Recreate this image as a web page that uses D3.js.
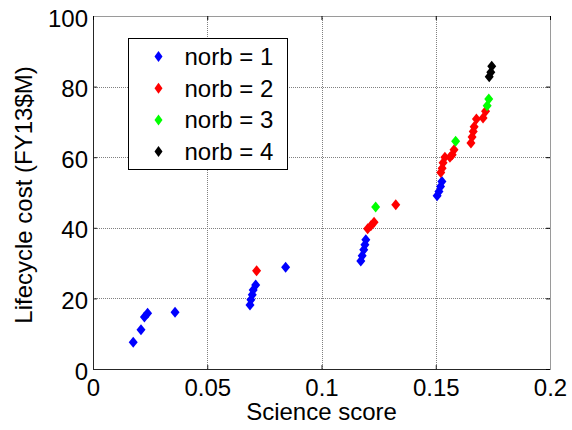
<!DOCTYPE html>
<meta charset="utf-8">
<style>
body { margin: 0; background: #fff; font-family: Arial, "Liberation Sans", sans-serif; }
.grid line { stroke: #808080; stroke-width: 1; stroke-dasharray: 1,1; shape-rendering: crispEdges; }
.tick text { font-size: 24px; fill: #000; }
</style>
<body>
<div id="chart"></div>
<script src="https://d3js.org/d3.v7.min.js"></script>
<script>
// values, one list per norb group
var norb1 = [
  [0.0176, 7.6], [0.0210, 11.1], [0.0225, 14.7], [0.0239, 15.8], [0.0359, 16.1],
  [0.0687, 18.1], [0.0691, 19.6], [0.0697, 21.0], [0.0701, 22.4], [0.0712, 23.8],
  [0.0843, 28.8],
  [0.1172, 30.6], [0.1178, 32.1], [0.1185, 33.8], [0.1190, 35.2], [0.1194, 36.6],
  [0.1506, 49.1], [0.1514, 50.3], [0.1521, 51.7], [0.1527, 53.1]
];
var norb2 = [
  [0.0716, 27.8],
  [0.1202, 39.7], [0.1216, 40.6], [0.1230, 41.6], [0.1325, 46.5],
  [0.1522, 55.7], [0.1528, 56.9], [0.1532, 58.4], [0.1540, 60.0], [0.1562, 60.0],
  [0.1572, 60.7], [0.1580, 62.1],
  [0.1654, 64.0], [0.1659, 65.7], [0.1664, 67.3], [0.1668, 68.6], [0.1678, 70.8],
  [0.1707, 71.1], [0.1718, 73.0]
];
var norb3 = [[0.1237, 45.9], [0.1587, 64.5], [0.1725, 74.6], [0.1732, 76.5]];
var norb4 = [[0.1734, 82.8], [0.1741, 84.1], [0.1745, 85.8]];

var seriesNames = ["norb = 1", "norb = 2", "norb = 3", "norb = 4"];
var seriesColors = ["#0000ff", "#ff0000", "#00ff00", "#000000"];
var xTicks = [0, 0.05, 0.1, 0.15, 0.2];
var yTicks = [0, 20, 40, 60, 80, 100];

var margin = {top: 16, right: 22, bottom: 61, left: 93},
    width = 572 - margin.left - margin.right,
    height = 430 - margin.top - margin.bottom;

var svg = d3.select("#chart").append("svg")
    .attr("width", 572)
    .attr("height", 430)
  .append("g")
    .attr("transform", "translate(" + margin.left + "," + margin.top + ")");

var x = d3.scaleLinear().domain([0, 0.2]).range([0, width]);
var y = d3.scaleLinear().domain([0, 100]).range([height, 0]);

// dotted grid
var grid = svg.append("g").attr("class", "grid");
grid.selectAll(".gx").data(xTicks).enter().append("line")
    .attr("x1", function(d) { return Math.round(x(d)) + 0.5; })
    .attr("x2", function(d) { return Math.round(x(d)) + 0.5; })
    .attr("y1", 0).attr("y2", height);
grid.selectAll(".gy").data(yTicks).enter().append("line")
    .attr("y1", function(d) { return Math.round(y(d)) + 0.5; })
    .attr("y2", function(d) { return Math.round(y(d)) + 0.5; })
    .attr("x1", 0).attr("x2", width);

// axes
var fmtX = function(d) { return d === 0 ? "0" : String(+d.toFixed(2)); };
var xAxis = svg.append("g")
    .attr("transform", "translate(0," + height + ")")
    .call(d3.axisBottom(x).tickValues(xTicks).tickFormat(fmtX).tickSize(-4).tickSizeOuter(0).tickPadding(10));
var yAxis = svg.append("g")
    .call(d3.axisLeft(y).tickValues(yTicks).tickSize(-4).tickSizeOuter(0).tickPadding(5));
svg.append("g")
    .attr("transform", "translate(" + width + ",0)")
    .call(d3.axisRight(y).tickValues(yTicks).tickSize(-4).tickSizeOuter(0).tickFormat(""))
    .select(".domain").attr("stroke", "#9a9a9a");
svg.append("g")
    .call(d3.axisTop(x).tickValues(xTicks).tickSize(-4).tickSizeOuter(0).tickFormat(""))
    .select(".domain").attr("stroke", "#9a9a9a");
[xAxis, yAxis].forEach(function(a) {
  a.select(".domain").attr("stroke", "#262626");
  a.selectAll(".tick line").attr("stroke", "#262626");
});
yAxis.selectAll(".tick text").attr("dy", "0.42em");

// diamond markers
function diamond(w, h) {
  return "M0," + (-h) + "L" + w + ",0L0," + h + "L" + (-w) + ",0Z";
}
[norb1, norb2, norb3, norb4].forEach(function(data, i) {
  svg.append("g").selectAll("path")
      .data(data)
    .enter().append("path")
      .attr("d", diamond(4.5, 5.5))
      .attr("transform", function(d) { return "translate(" + x(d[0]) + "," + y(d[1]) + ")"; })
      .attr("fill", seriesColors[i]);
});

// axis titles
svg.append("text")
    .attr("x", width / 2)
    .attr("y", height + 51)
    .attr("text-anchor", "middle")
    .style("font-size", "24px")
    .text("Science score");
svg.append("text")
    .attr("transform", "translate(" + (-61) + "," + (height / 2 + 2.5) + ") rotate(-90)")
    .attr("text-anchor", "middle")
    .style("font-size", "24px")
    .text("Lifecycle cost (FY13$M)");

// legend
var legend = svg.append("g").attr("transform", "translate(35.5,22.5)");
legend.append("rect")
    .attr("width", 159).attr("height", 131)
    .attr("fill", "#fff").attr("stroke", "#000");
var item = legend.selectAll(".item")
    .data(seriesNames)
  .enter().append("g")
    .attr("transform", function(d, i) { return "translate(0," + (18 + i * 31.7) + ")"; });
item.append("path")
    .attr("d", diamond(4, 5.5))
    .attr("transform", "translate(30,0)")
    .attr("fill", function(d, i) { return seriesColors[i]; });
item.append("text")
    .attr("x", 56)
    .attr("dy", "0.35em")
    .style("font-size", "24px")
    .text(function(d) { return d; });
</script>
</body>
